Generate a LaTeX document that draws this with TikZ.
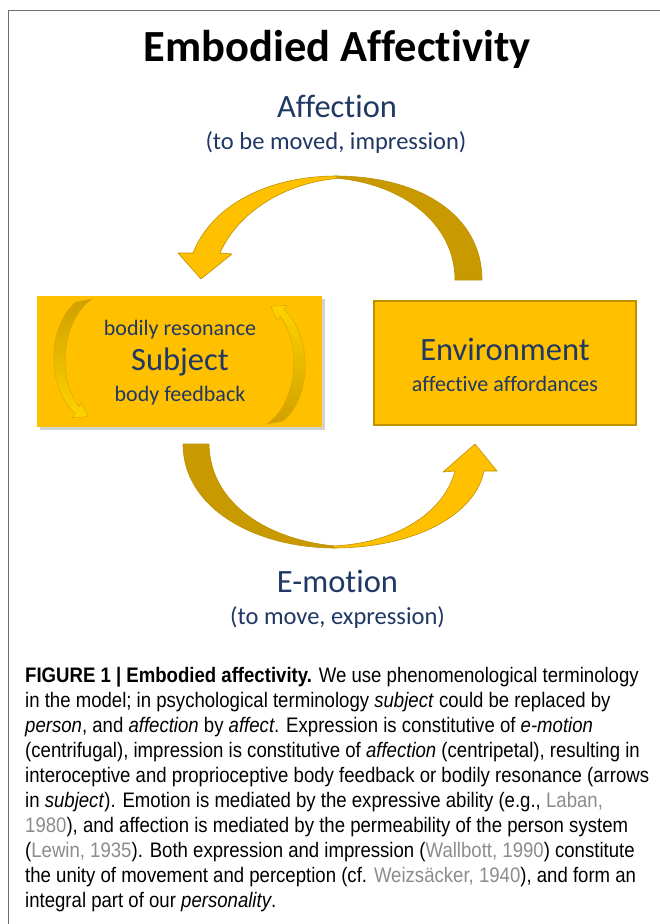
\documentclass[tikz,border=0pt]{standalone}
\usepackage{fontspec}
\setmainfont[Ligatures={NoCommon}]{Carlito}
\newfontfamily\capfont[FakeStretch=0.885]{Liberation Sans}
\usetikzlibrary{shadows}
\definecolor{gold}{RGB}{255,192,0}
\definecolor{golddark}{RGB}{200,154,0}
\definecolor{goldline}{RGB}{190,145,0}
\definecolor{navy}{RGB}{31,56,100}
\definecolor{framegray}{RGB}{110,110,110}
\definecolor{cite}{RGB}{140,140,140}
\tikzset{
  frontpart/.style={fill=gold, draw=goldline, line width=0.6pt, line join=round},
  backpart/.style={fill=golddark, draw=goldline, line width=0.6pt, line join=round},
  boxtext/.style={text=navy, anchor=base, inner sep=0pt},
  bigtext/.style={boxtext, font=\fontsize{32.5}{38}\selectfont},
  midtext/.style={boxtext, font=\fontsize{24.5}{30}\selectfont},
  smalltext/.style={boxtext, font=\fontsize{22}{26}\selectfont},
  captext/.style={anchor=base west, inner sep=0pt, font=\capfont\fontsize{21}{25}\selectfont},
  subjbox/.style={fill=gold, draw=none, drop shadow={shadow xshift=2.5pt, shadow yshift=-3pt, opacity=0.35}},
  envbox/.style={fill=gold, draw=goldline, line width=1.2pt}
}
\begin{document}
\begin{tikzpicture}[x=1pt,y=-1pt]
\useasboundingbox (0,0) rectangle (660,924);
\fill[white] (0,0) rectangle (660,924);
% frame
\draw[framegray, line width=1.6pt] (8.5,924) -- (8.5,10.5) -- (660,10.5);

% title
\node[anchor=base, inner sep=0pt, font=\fontsize{44.5}{50}\selectfont\bfseries] (title) at (337,61) {Embodied Affectivity};

\node[bigtext] (affection) at (337,117) {Affection};
\node[midtext] (affsub) at (336,149) {(to be moved, impression)};

% boxes
\path[subjbox] (37,296) rectangle (322,427);
\coordinate (subjc) at (179.5,361.5);
\draw[envbox] (374,301) rectangle (636,425);
\coordinate (envc) at (505,363);

% small arrows in subject box
\shade[top color=golddark!85!gold, bottom color=gold!70!yellow, draw=goldline!60!gold, line width=0.4pt]
  (76,302) .. controls (48,325) and (45,385) .. (75,413.4) -- (72.4,417.7) -- (88.2,416.6)
  -- (81.6,402.3) -- (79,406.6) .. controls (58,380) and (60,322) .. (92,299) -- cycle;
\shade[bottom color=golddark!85!gold, top color=gold!70!yellow, draw=goldline!60!gold, line width=0.4pt]
  (283,421) .. controls (311,398) and (314,338) .. (284,309.6) -- (286.6,305.3) -- (270.8,306.4)
  -- (277.4,320.7) -- (280,316.4) .. controls (301,343) and (299,401) .. (267,424) -- cycle;

% box texts
\node[smalltext] (subj1) at (180,335) {bodily resonance};
\node[bigtext] (subj) at (180,370) {Subject};
\node[smalltext] (subj2) at (180,401) {body feedback};
\node[bigtext] (env) at (505,360.5) {Environment};
\node[smalltext] (env2) at (505,391) {affective affordances};

% upper big arrow (environment -> subject)
\draw[backpart] (335,176) .. controls (420,176) and (482,215) .. (482,280) -- (455,280)
  .. controls (455,225) and (405,184) .. (335,178) -- cycle;
\draw[frontpart] (337,176) .. controls (268,176) and (212,205) .. (193,253) -- (178,253)
  -- (201,279) -- (232,254) -- (220,253) .. controls (238,212) and (285,183) .. (337,178.5) -- cycle;

% lower big arrow (subject -> environment)
\draw[backpart] (183,444) .. controls (183,508) and (255,548) .. (335,548) -- (335,546)
  .. controls (270,540) and (210,505) .. (209,444) -- cycle;
\draw[frontpart] (333,548) .. controls (415,548) and (475,515) .. (484,471) -- (497,471)
  -- (475,444) -- (443,472) -- (455,471) .. controls (445,510) and (400,543) .. (333,546) -- cycle;

\node[bigtext] (emotion) at (337.5,592) {E-motion};
\node[midtext] (emosub) at (337.5,624) {(to move, expression)};

% caption
\node[captext] (cap1) at (25,682) {\textbf{FIGURE 1 | Embodied affectivity.} We use phenomenological terminology};
\node[captext] (cap2) at (25,707) {in the model; in psychological terminology \textit{subject} could be replaced by};
\node[captext] (cap3) at (25,732) {\textit{person}, and \textit{affection} by \textit{affect}. Expression is constitutive of \textit{e-motion}};
\node[captext] (cap4) at (25,757) {(centrifugal), impression is constitutive of \textit{affection} (centripetal), resulting in};
\node[captext] (cap5) at (25,782) {interoceptive and proprioceptive body feedback or bodily resonance (arrows};
\node[captext] (cap6) at (25,807) {in \textit{subject}). Emotion is mediated by the expressive ability (e.g., {\color{cite}Laban,}};
\node[captext] (cap7) at (25,832) {{\color{cite}1980}), and affection is mediated by the permeability of the person system};
\node[captext] (cap8) at (25,857) {({\color{cite}Lewin, 1935}). Both expression and impression ({\color{cite}Wallbott, 1990}) constitute};
\node[captext] (cap9) at (25,882) {the unity of movement and perception (cf. {\color{cite}Weizsäcker, 1940}), and form an};
\node[captext] (cap10) at (25,907) {integral part of our \textit{personality}.};
\end{tikzpicture}
\end{document}
